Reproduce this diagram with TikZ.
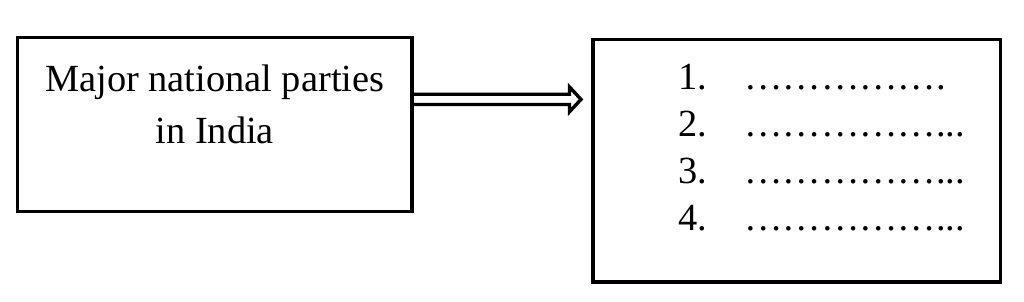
\documentclass[tikz,border=0pt]{standalone}
\usepackage{fontspec}
\setmainfont{Liberation Serif}
\usetikzlibrary{calc}
\begin{document}
\begin{tikzpicture}[
    x=1pt, y=1pt,
    box/.style={draw, line width=3.6pt, inner sep=0pt, outer sep=0pt},
    bigtext/.style={font=\fontsize{38.4}{52}\selectfont, inner sep=0pt},
    hollow_arrow/.style={draw, line width=3.4pt, line join=miter}
]
    % Define coordinates
    \def\arrowY{202.6}
    \def\numX{678}
    \def\dotX{744}

    \useasboundingbox (0,0) rectangle (1024,302);

    % Boxes
    \node[box, minimum width=394.5pt, minimum height=174pt] (parties) at (214.75,177.5) {};
    \node[box, minimum width=407.5pt, minimum height=242.5pt] (answers) at (796.75,141.25) {};

    % Question text
    \node[bigtext, align=center] (question) at (214.75,197.4) {Major national parties\\in India};

    % Numbered blanks
    \foreach \i/\y/\leader in {1/212/{…………….}, 2/165.1/{……………...}, 3/118.2/{……………...}, 4/71.3/{……………...}} {
        \node[bigtext, anchor=base west] (num\i) at (\numX,\y) {\i.};
        \node[bigtext, anchor=base west] (blank\i) at (\dotX,\y) {\leader};
    }

    % Hollow arrow from question box
    \coordinate (tail) at (parties.east |- 0,\arrowY);
    \coordinate (tip) at (581,\arrowY);
    \draw[hollow_arrow] ($(tail)+(0,5.1)$) -- ($(tip)+(-11.5,5.1)$) -- ($(tip)+(-11.5,12.4)$) -- (tip)
        -- ($(tip)+(-11.5,-12.4)$) -- ($(tip)+(-11.5,-5.1)$) -- ($(tail)+(0,-5.1)$);

\end{tikzpicture}
\end{document}
